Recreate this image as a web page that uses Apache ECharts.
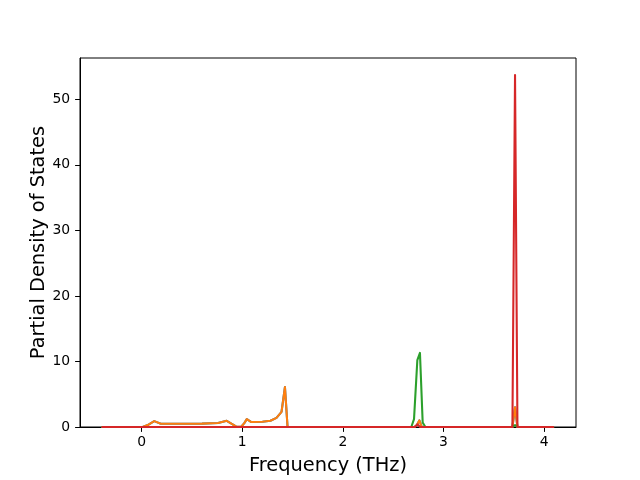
<!DOCTYPE html>
<html>
<head>
<meta charset="utf-8">
<script src="https://cdn.jsdelivr.net/npm/echarts@6/dist/echarts.min.js"></script>
<style>html,body{margin:0;padding:0;background:#fff}#c{width:640px;height:480px}</style>
</head>
<body>
<div id="c"></div>
<script>
// Frequencies (THz) and partial DOS values
const xTicks = [0, 1, 2, 3, 4];
const yTicks = [0, 10, 20, 30, 40, 50];

const blueFreq = [-0.39, 0.01, 0.06, 0.125, 0.19, 0.4, 0.6, 0.76, 0.845, 0.9, 0.945, 0.99, 1.02, 1.045, 1.09, 1.2, 1.28, 1.34, 1.39, 1.424, 1.45, 2.71, 2.735, 2.76, 2.785, 3.685, 3.711, 3.735, 4.09];
const bluePdos = [0, 0, 0.3, 0.9, 0.5, 0.5, 0.52, 0.6, 0.95, 0.45, 0.02, 0.05, 0.6, 1.2, 0.75, 0.8, 0.95, 1.4, 2.3, 6.1, 0, 0, 0.3, 1.0, 0, 0, 3.0, 0, 0];

const orangeFreq = [-0.39, 0.01, 0.06, 0.125, 0.19, 0.4, 0.6, 0.76, 0.845, 0.9, 0.945, 0.99, 1.02, 1.045, 1.09, 1.2, 1.28, 1.34, 1.39, 1.424, 1.45, 2.71, 2.735, 2.76, 2.785, 3.685, 3.711, 3.735, 4.09];
const orangePdos = [0, 0, 0.3, 0.9, 0.5, 0.5, 0.52, 0.6, 0.95, 0.45, 0.02, 0.05, 0.6, 1.2, 0.75, 0.8, 0.95, 1.4, 2.3, 6.1, 0, 0, 0.3, 1.0, 0, 0, 3.0, 0, 0];

const greenFreq = [-0.39, 2.68, 2.707, 2.74, 2.766, 2.793, 2.82, 3.685, 3.711, 3.735, 4.09];
const greenPdos = [0, 0, 1.2, 10.2, 11.3, 0.7, 0, 0, 0.3, 0, 0];

const redFreq = [-0.39, 2.715, 2.742, 2.768, 3.685, 3.711, 3.735, 4.09];
const redPdos = [0, 0, 0.4, 0, 0, 53.7, 0, 0];

const zip = (xs, ys) => xs.map((x, i) => [x, ys[i]]);

const font = 'DejaVu Sans';
const chart = echarts.init(document.getElementById('c'), null, {renderer: 'canvas'});
const mk = (name, color, xs, ys) => ({
  name, type: 'line', data: zip(xs, ys), showSymbol: false, symbol: 'none',
  lineStyle: {color, width: 2.08, join: 'round', cap: 'round'}, itemStyle: {color},
  animation: false, emphasis: {disabled: true}
});
chart.setOption({
  animation: false,
  backgroundColor: '#fff',
  grid: {left: 80, right: 64, top: 58, bottom: 53, show: true, borderColor: '#000', borderWidth: 1, backgroundColor: 'transparent'},
  xAxis: {
    type: 'value', min: -0.613, max: 4.317,
    name: 'Frequency (THz)', nameLocation: 'middle', nameGap: 29, nameMoveOverlap: false,
    nameTextStyle: {fontFamily: font, fontSize: 19.4, color: '#000'},
    axisLine: {show: true, onZero: false, lineStyle: {color: '#000', width: 1}},
    axisTick: {show: true, inside: false, length: 4.9, lineStyle: {color: '#000', width: 1}, customValues: xTicks},
    axisLabel: {show: true, margin: 8, fontFamily: font, fontSize: 13.9, color: '#000', customValues: xTicks},
    splitLine: {show: false}
  },
  yAxis: {
    type: 'value', min: 0, max: 56.3,
    name: 'Partial Density of States', nameLocation: 'middle', nameGap: 32, nameMoveOverlap: false,
    nameTextStyle: {fontFamily: font, fontSize: 19.4, color: '#000'},
    axisLine: {show: true, onZero: false, lineStyle: {color: '#000', width: 1}},
    axisTick: {show: true, inside: false, length: 4.9, lineStyle: {color: '#000', width: 1}, customValues: yTicks},
    axisLabel: {show: true, margin: 9.8, fontFamily: font, fontSize: 13.9, color: '#000', customValues: yTicks},
    splitLine: {show: false}
  },
  series: [
    mk('C0', '#1f77b4', blueFreq, bluePdos),
    mk('C1', '#ff7f0e', orangeFreq, orangePdos),
    mk('C2', '#2ca02c', greenFreq, greenPdos),
    mk('C3', '#d62728', redFreq, redPdos)
  ]
});
</script>
</body>
</html>
